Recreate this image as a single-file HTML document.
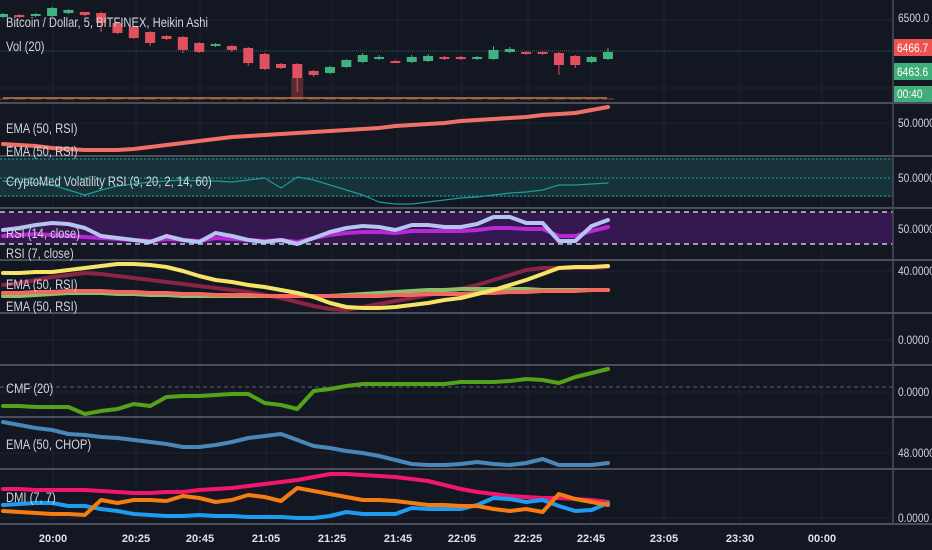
<!DOCTYPE html>
<html><head><meta charset="utf-8"><style>
html,body{margin:0;padding:0;background:#131722;}
svg{display:block;font-family:"Liberation Sans",sans-serif;}
</style></head><body>
<svg id="c" width="932" height="550" viewBox="0 0 932 550" xmlns="http://www.w3.org/2000/svg">
<rect width="932" height="550" fill="#131722"/>
<g id="grid"></g>
<g id="marks"></g>
<g id="labels"></g>
</svg>
<script>
const timeLabels = ["20:00","20:25","20:45","21:05","21:25","21:45","22:05","22:25","22:45","23:05","23:30","00:00"];
const timeLabelX = [53,136,200,266,332,398,462,528,591,664,740,822];
const candleOpen  = [6501.1,6503.4,6502.3,6502.3,6505.7,6506.9,6505.7,6494.3,6489.7,6483.9,6479.3,6478.2,6471.3,6467.9,6467.9,6465.6,6458.7,6447.2,6447.2,6439.2,6436.9,6443.7,6449.5,6452.9,6450.6,6449.5,6450.6,6455.2,6455.2,6452.9,6452.9,6461.0,6461.0,6461.0,6459.8,6456.4,6449.5,6452.9];
const candleClose = [6504.6,6501.1,6504.6,6511.5,6509.2,6503.4,6494.3,6482.8,6477.0,6471.3,6475.9,6463.3,6461.0,6470.2,6463.3,6448.3,6441.4,6442.6,6431.1,6434.6,6443.7,6451.8,6457.5,6455.2,6449.5,6455.2,6456.4,6452.9,6452.9,6455.2,6463.3,6464.4,6458.7,6458.7,6446.0,6446.0,6455.2,6461.0];
const candleHigh  = [6505.7,6504.6,6505.7,6512.6,6510.3,6507.0,6507.0,6495.5,6490.8,6485.0,6480.4,6479.3,6472.4,6471.3,6468.9,6466.7,6459.8,6448.3,6448.3,6440.3,6445.0,6452.9,6459.8,6457.5,6451.8,6457.5,6458.7,6456.4,6456.4,6456.4,6467.9,6466.7,6462.1,6462.1,6461.0,6457.5,6456.4,6465.6];
const candleLow   = [6500.0,6500.0,6501.1,6501.1,6504.6,6502.3,6483.9,6481.6,6475.9,6467.9,6474.7,6459.8,6459.8,6466.7,6461.0,6444.9,6440.3,6441.4,6415.0,6432.3,6435.8,6442.6,6448.3,6451.8,6448.3,6448.3,6449.5,6451.8,6451.8,6451.8,6451.8,6459.8,6457.5,6457.5,6434.6,6442.6,6448.3,6451.8];
const volume = [2,2,2,2,2,2,2,2,2,2,2,2,2,2,2,2,2,2,22,2,2,2,2,2,2,2,2,2,2,2,2,2,2,2,2,2,2,2];
const emaRsi = [39.5,39,38.5,37.5,37,36.5,36.5,36.5,37,38,39,40,41,42,43,43.5,44,44.5,45,45.5,46,46.5,47,47.5,48.5,49,49.5,50,51,51.5,52,52.5,53,54,54.5,55,56.5,58];
const volRsi = [47,46,45,43,38,33,38,42,44,46,47,48,47,47,46,48,50,40,51,48,43,38,33,26,24,24,26,28,30,31,33,35,36,38,43,43,44,45];
const rsi7 = [48.8,51.3,55,57.5,56.3,51.3,41.3,38.8,36.3,33.8,41.3,36.3,33.8,45,41.3,36.3,33.8,36.3,31.3,38.8,46.3,51.3,53.8,52.5,48.8,55,55,52.5,52.5,56.3,65,65,57.5,57.5,35,35,53.8,61.3];
const rsi14 = [41.3,42.5,43.8,42.5,41.3,40,38.8,37.5,36.3,35,37.5,36.3,35,38.8,37.5,36.3,35,36.3,33.8,38.8,42.5,45,46.3,46.3,45,47.5,47.5,47.5,47.5,48.8,51.3,51.3,50,50,41.3,41.3,47.5,52.5];
const emaYellow = [38,38,39,39,41,43,45,47,47,46,44,40,35,31,29,26,24,21,18,14,8,4,3,3,4,6,8,11,13,17,21,26,31,37,43,44,44,45];
const emaMaroon = [26,28,31,34,36,38,37,35,33,31,29,27,25,23,21,19,16,13,9,5,2,1,4,7,10,13,16,19,22,26,31,36,41,43,43,43,43,44];
const emaSalmon = [18,18,19,19,20,20,20,19,19,18,18,17,17,16,16,16,15,15,15,15,15,15,15,15,16,16,17,17,17,18,18,19,19,20,20,20,21,21];
const emaGreen  = [15,15,16,17,18,18,18,17,17,16,16,15,15,15,15,15,15,15,15,15,15,16,17,18,19,20,21,21,22,22,22,22,22,21,21,21,21,21];
const cmf = [-0.19,-0.19,-0.20,-0.20,-0.20,-0.27,-0.24,-0.22,-0.17,-0.19,-0.10,-0.09,-0.09,-0.08,-0.07,-0.07,-0.16,-0.18,-0.22,-0.04,-0.02,0.01,0.03,0.03,0.03,0.03,0.03,0.03,0.05,0.05,0.05,0.06,0.08,0.07,0.04,0.10,0.14,0.18];
const chop = [63.5,62,60.5,59.5,57.5,57,56,55.5,54.5,53.5,52.5,51,51,52,53.5,55.5,56.5,57.5,54.5,51.5,50.5,49,48,46.5,44.5,42.5,42,42,42.5,43.5,42.5,42,43,45,42,42,42,43];
const diPlus = [14.5,14.5,14,14,14,14,13.5,13,12.5,12.5,13,13,14,14.5,15,16,17,18,19,20.5,22,22,21.5,21,20.5,19.5,18.5,16.5,14.5,13,12,11,10.5,10,10,9.5,9,8];
const diOrange = [3.5,3,2.5,2,2,1.5,9,7.5,9,9,8.5,11,10,8,9,11.5,10.5,8.5,15,13.5,12,10.5,9,9,8.5,7.5,6.5,6.5,6,6,4.5,3.5,4.5,3,12,9.5,8,6.5];
const diBlue = [6.5,7,7.5,7.5,6,6,4.5,3.5,2,1.5,1,1,1.5,1,1,0.5,0.5,0.5,0,0,1,3,2,2,2,5,4.5,4.5,4.5,6.5,10,9.5,8,9,6,3.5,4,7.5];

const NS="http://www.w3.org/2000/svg";
function mk(tag,attrs,parent){const e=document.createElementNS(NS,tag);for(const k in attrs)e.setAttribute(k,attrs[k]);(parent||document.getElementById('marks')).appendChild(e);return e;}
const xAt = i => 3 + i*16.35;
const yPrice = v => 18 + (6500 - v)*0.871;
const yEma1 = v => 123 - (v-50)*2;
const yVol = v => 228 - v;
const yRsi = v => 229 - (v-50)*0.8;
const yEma2 = v => 311 - v;
const yCmf = v => 387 - v*100;
const yChop = v => 453 - (v-48)*2;
const yDmi = v => 518 - v*2;

const grid=document.getElementById('grid');
const labels=document.getElementById('labels');
timeLabelX.forEach((x,i)=>{
  const l=mk('line',{x1:x,y1:0,x2:x,y2:524,stroke:'#1f2330','stroke-width':1},grid);
  
  
});
[20,88,123,178,229,271,340,392,453,518].forEach(y=>{
  const l=mk('line',{x1:0,y1:y,x2:893,y2:y,stroke:'#1f2330','stroke-width':1},grid);
  
  
});
let e=mk('rect',{x:0,y:158,width:893,height:39,fill:'#173238'},grid);


[159,178,196].forEach(y=>{const l=mk('line',{x1:0,y1:y,x2:893,y2:y,stroke:'#1fa3a3','stroke-width':1,'stroke-dasharray':'2,2'},grid);

});
e=mk('rect',{x:0,y:212,width:893,height:32,fill:'#33194f'},grid);


[212,244].forEach(y=>{const l=mk('line',{x1:0,y1:y,x2:893,y2:y,stroke:'#c8c8d8','stroke-width':1.5,'stroke-dasharray':'5,4'},grid);

});
e=mk('line',{x1:0,y1:387,x2:893,y2:387,stroke:'#5d606b','stroke-width':1,'stroke-dasharray':'4,3'},grid);


e=mk('line',{x1:0,y1:51,x2:893,y2:51,stroke:'#2e6b5e','stroke-width':1,'stroke-dasharray':'1,1'},grid);


[103,156,208,260,313,365,417,469,524].forEach(y=>{const l=mk('line',{x1:0,y1:y,x2:932,y2:y,stroke:'#4a4e5a','stroke-width':2},grid);

});
e=mk('line',{x1:893,y1:0,x2:893,y2:524,stroke:'#4a4e5a','stroke-width':1.5},grid);



volume.forEach((v,i)=>{const r=mk('rect',{x:xAt(i)-6,y:100-v,width:12,height:v,fill:i===18?'#6b2f3a':'#5a3a30',opacity:0.8});

});
e=mk('line',{x1:3,y1:98,x2:607,y2:98,stroke:'#c97a45','stroke-width':1.5});


candleOpen.forEach((o,i)=>{
  const c=candleClose[i], up=c>=o, col=up?'#3fb37f':'#e0505f';
  const x=xAt(i);
  const w=mk('line',{x1:x,y1:yPrice(candleHigh[i]),x2:x,y2:yPrice(candleLow[i]),stroke:col,'stroke-width':1});
  
  
  const t=Math.min(yPrice(o),yPrice(c)),h=Math.max(2,Math.abs(yPrice(o)-yPrice(c)));
  const b=mk('rect',{x:x-5,y:t,width:10,height:h,fill:col});
  
  
});
function line(arr,fy,col,w,name){
  const p=arr.map((v,i)=>xAt(i).toFixed(1)+','+fy(v).toFixed(1)).join(' ');
  const l=mk('polyline',{points:p,fill:'none',stroke:col,'stroke-width':w,'stroke-linejoin':'round','stroke-linecap':'round'});
  
  
}
line(emaRsi,yEma1,'#f07068',4,'ema-rsi-line');
line(volRsi,yVol,'#1d9a9a',1.2,'volatility-rsi-line');
line(rsi14,yRsi,'#b52ad4',4,'rsi14-line');
line(rsi7,yRsi,'#b6c4f2',4,'rsi7-line');
line(emaMaroon,yEma2,'#8a2445',4,'ema-maroon-line');
line(emaGreen,yEma2,'#8fbf6a',4,'ema-green-line');
line(emaSalmon,yEma2,'#f06a60',4,'ema-salmon-line');
line(emaYellow,yEma2,'#f6e466',4,'ema-yellow-line');
line(cmf,yCmf,'#53a318',4,'cmf-line');
line(chop,yChop,'#4a86b8',4,'chop-ema-line');
line(diPlus,yDmi,'#f2166e',4,'dmi-pink-line');
line(diBlue,yDmi,'#1e9cf2',4,'dmi-blue-line');
line(diOrange,yDmi,'#f57c12',4,'dmi-orange-line');

function txt(x,y,s,attrs,name){const t=mk('text',Object.assign({x:x,y:y,fill:'#d1d4dc','font-size':13},attrs||{}),labels);t.textContent=s;

return t;}
const paneTitles=[["Bitcoin / Dollar, 5, BITFINEX, Heikin Ashi",27],["Vol (20)",51],["EMA (50, RSI)",133],["EMA (50, RSI)",156],["CryptoMed Volatility RSI (9, 20, 2, 14, 60)",186],["RSI (14, close)",238],["RSI (7, close)",258],["EMA (50, RSI)",289],["EMA (50, RSI)",311],["CMF (20)",393],["EMA (50, CHOP)",449],["DMI (7, 7)",502]];
paneTitles.forEach(p=>{const t=txt(6,p[1],p[0],{'font-size':14,transform:'translate(6 0) scale(0.8 1) translate(-6 0)'},'pane-title');});
const axisVals=[["6500.0",22],["50.0000",127],["50.0000",182],["50.0000",233],["40.0000",275],["0.0000",344],["0.0000",396],["48.0000",457],["0.0000",522]];
axisVals.forEach(a=>txt(898,a[1],a[0],{'font-size':12,transform:'translate(898 0) scale(0.85 1) translate(-898 0)'},'price-axis-label'));
function badge(y,h,bg,s,name){const r=mk('rect',{x:894,y:y,width:38,height:h,fill:bg},labels);
txt(897,y+h-4,s,{'font-size':12,fill:'#ffffff',transform:'translate(897 0) scale(0.85 1) translate(-897 0)'},name+'-text');}
badge(39,17,'#ef5350','6466.7','last-price-badge');
badge(63,17,'#3fae7a','6463.6','close-price-badge');
badge(86,16,'#3fae7a','00:40','countdown-badge');
timeLabels.forEach((s,i)=>txt(timeLabelX[i],542,s,{'font-size':11,'font-weight':'bold','text-anchor':'middle',fill:'#e0e3eb'},'time-axis-label'));
</script>
</body></html>
